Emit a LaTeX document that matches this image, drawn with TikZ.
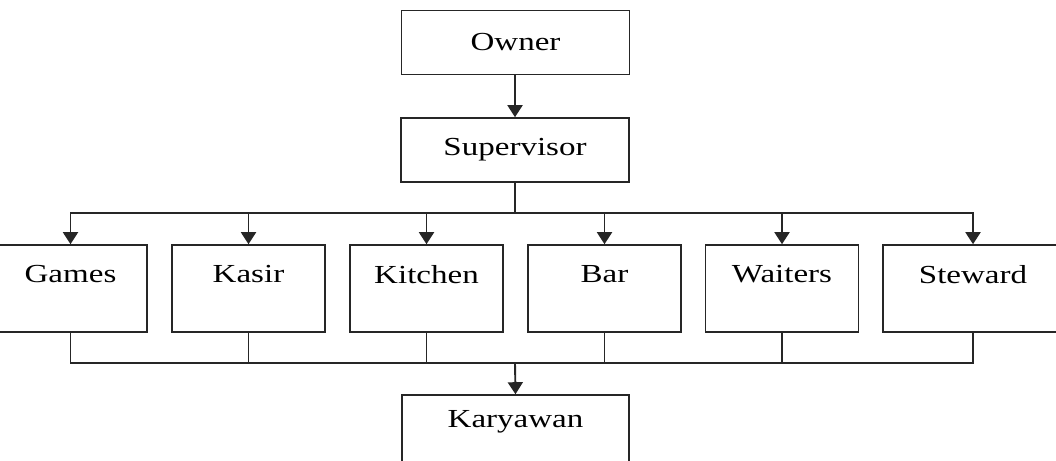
\documentclass[tikz,border=0pt]{standalone}
\usepackage{fontspec}
\setmainfont[FakeStretch=1.27]{Liberation Serif}
\usetikzlibrary{arrows.meta}
\begin{document}
\begin{tikzpicture}[x=1pt,y=-1pt,
  every node/.style={font=\fontsize{26}{30}\selectfont},
  box/.style={draw=black!85, line width=1.6pt, rectangle, inner sep=0pt},
  topbox/.style={box, minimum width=228pt, minimum height=64pt},
  unit/.style={box, minimum width=153pt, minimum height=87pt,
    label={[anchor=center,yshift=-30pt,inner sep=0pt]north:#1}},
  link/.style={draw=black!85, line width=1.9pt},
  arr/.style={link, -{Triangle[width=15pt,length=12pt]}}]
\useasboundingbox (0,0) rectangle (1056,460);
\fill[white] (0,0) rectangle (1056,460);
\clip (0,0) rectangle (1056,460);

% top of the chart
\node[topbox] (owner) at (515.5,42.5) {Owner};
\node[topbox] (sup) at (515,150) {Supervisor};

% the six units
\node[unit=Games]   (games)   at (70.5,288.5) {};
\node[unit=Kasir]   (kasir)   at (248.5,288.5) {};
\node[unit=Kitchen] (kitchen) at (426.5,288.5) {};
\node[unit=Bar]     (bar)     at (604.5,288.5) {};
\node[unit=Waiters] (waiters) at (782,288.5) {};
\node[unit=Steward, minimum width=180pt] (steward) at (973,288.5) {};

% staff box at the bottom
\node[box, minimum width=227pt, minimum height=87pt,
  label={[anchor=center,yshift=-28pt,inner sep=0pt]north:Karyawan}]
  (kary) at (515.5,438.5) {};

% bus lines
\coordinate (busTop) at (515,213);
\coordinate (busBot) at (515,363);

\draw[arr] (owner.south) -- (sup.south |- owner.south) -- (sup.north);
\foreach \u in {games,kasir,kitchen,bar,waiters,steward}{
  \draw[arr] (sup.south) -- (busTop) -| (\u.north);
  \draw[link] (\u.south) |- (busBot);
}
\draw[arr] (busBot) -- (kary.north);
\end{tikzpicture}
\end{document}
